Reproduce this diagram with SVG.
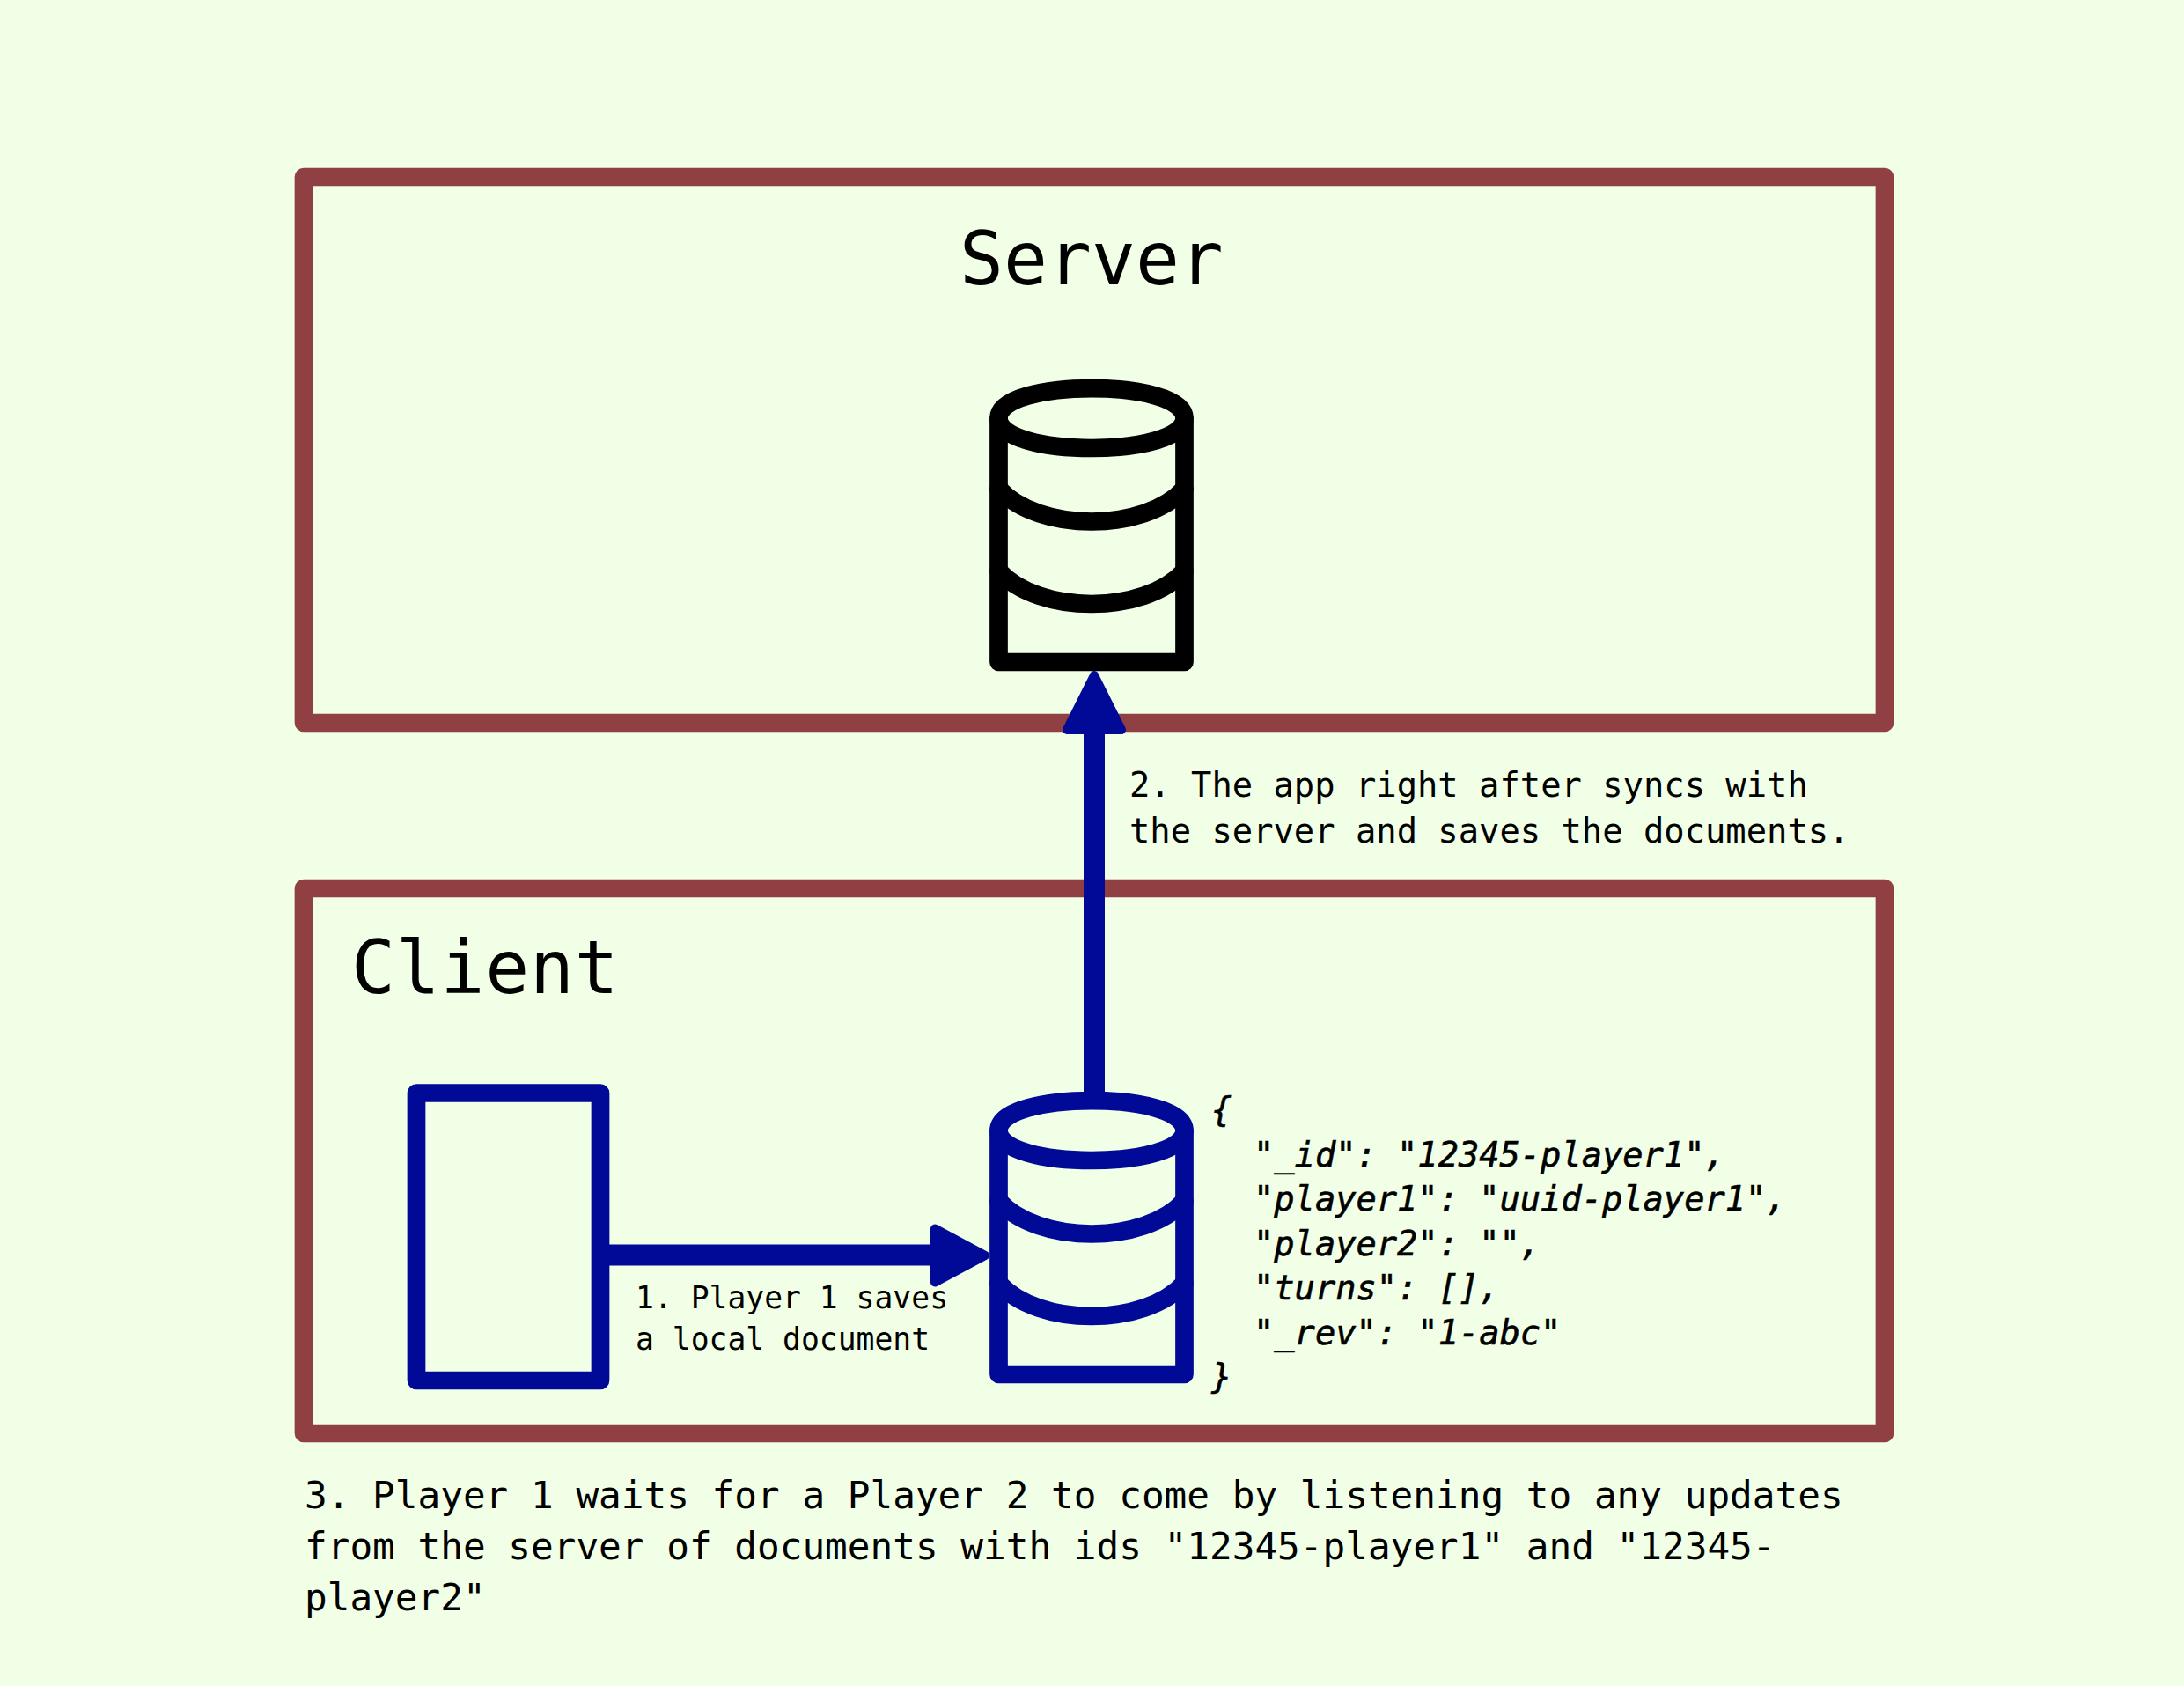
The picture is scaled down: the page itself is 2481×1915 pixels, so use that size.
<svg xmlns="http://www.w3.org/2000/svg" width="2481" height="1915" viewBox="0 0 2481 1915">
<style>
.box{fill:none;stroke:#903f42;stroke-width:20.7;stroke-linejoin:round}
.blue{fill:none;stroke:#000a96;stroke-width:20.7;stroke-linejoin:round;stroke-linecap:round}
.black{fill:none;stroke:#000;stroke-width:20.7;stroke-linejoin:round;stroke-linecap:round}
.t{font-family:"DejaVu Sans Mono",monospace;fill:#000}
.title{font-size:83px}
.l2{font-size:38.8px}
.l3{font-size:42.7px}
.l1{font-size:34.7px}
.j{font-size:38.7px;font-style:italic;stroke:#000;stroke-width:0.6px}
</style>
<defs>
<g id="cyl">
<path d="M-105.5 0C-105.5 -45.3 105.5 -45.3 105.5 0V277H-105.5Z"/>
<path d="M-105.5 0C-105.5 45.3 105.5 45.3 105.5 0"/>
<path d="M-105.5 80C-60 130 60 130 105.500 80"/>
<path d="M-105.5 173.500C-60 223.500 60 223.500 105.500 173.500"/>
</g>
</defs>
<rect width="2481" height="1915" fill="#f0ffe5"/>
<g id="server">
<rect class="box" x="345" y="201" width="1796" height="620"/>
<text class="t title" x="1090" y="323">Server</text>
</g>
<g id="client">
<rect class="box" x="345" y="1009" width="1796" height="619"/>
<text class="t title" x="399" y="1128" letter-spacing="0.8">Client</text>
</g>
<g id="server-db" class="black"><use href="#cyl" x="1240" y="475"/></g>
<g id="client-db" class="blue"><use href="#cyl" x="1240" y="1284"/></g>
<g id="device"><rect class="blue" x="473" y="1241.500" width="209" height="326.500"/></g>
<g id="connectors">
<path d="M1243 1250V826" fill="none" stroke="#000a96" stroke-width="24"/>
<path d="M1243 767L1274 829H1212Z" fill="#000a96" stroke="#000a96" stroke-width="10" stroke-linejoin="round"/>
<path d="M686 1425.500H1065" fill="none" stroke="#000a96" stroke-width="24"/>
<path d="M1119 1426L1062 1395.500V1456.500Z" fill="#000a96" stroke="#000a96" stroke-width="10" stroke-linejoin="round"/>
</g>
<g id="labels">
<text class="t l2" x="1283" y="904.500">2. The app right after syncs with</text>
<text class="t l2" x="1283" y="956.500">the server and saves the documents.</text>
<text class="t l1" x="722" y="1486">1. Player 1 saves</text>
<text class="t l1" x="722" y="1533">a local document</text>
<text class="t j" x="1376" y="1274">{</text>
<text class="t j" x="1424" y="1324.500">"_id": "12345-player1",</text>
<text class="t j" x="1424" y="1375">"player1": "uuid-player1",</text>
<text class="t j" x="1424" y="1425.500">"player2": "",</text>
<text class="t j" x="1424" y="1476">"turns": [],</text>
<text class="t j" x="1424" y="1526.500">"_rev": "1-abc"</text>
<text class="t j" x="1376" y="1577">}</text>
<text class="t l3" x="346" y="1712.500">3. Player 1 waits for a Player 2 to come by listening to any updates</text>
<text class="t l3" x="346" y="1770.500">from the server of documents with ids "12345-player1" and "12345-</text>
<text class="t l3" x="346" y="1828.500">player2"</text>
</g>
</svg>
